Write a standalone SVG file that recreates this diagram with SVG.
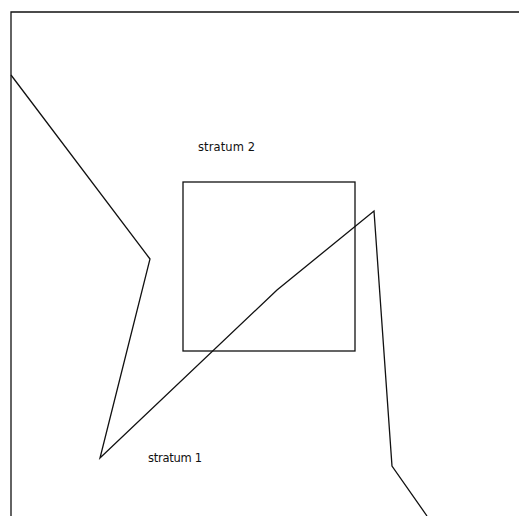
<svg xmlns="http://www.w3.org/2000/svg" width="519" height="516" viewBox="0 0 519 516">
<style>
.ln{fill:none;stroke:#111;stroke-width:1.3;stroke-linejoin:miter}
.lb{font-family:"DejaVu Sans",sans-serif;font-size:11.5px;fill:#111}
</style>
<rect width="519" height="516" fill="#fff"/>
<g id="frame"><path class="ln" d="M11,516 V12 H519"/></g>
<g id="stratum2-box"><rect class="ln" x="183" y="182" width="172" height="169"/></g>
<g id="boundary"><polyline class="ln" points="11,75 150,259 100,458 277,290 374,211 392,466 427,516"/></g>
<g id="label-stratum2"><text class="lb" x="198" y="151" textLength="57">stratum 2</text></g>
<g id="label-stratum1"><text class="lb" x="148" y="462" textLength="54">stratum 1</text></g>
</svg>
